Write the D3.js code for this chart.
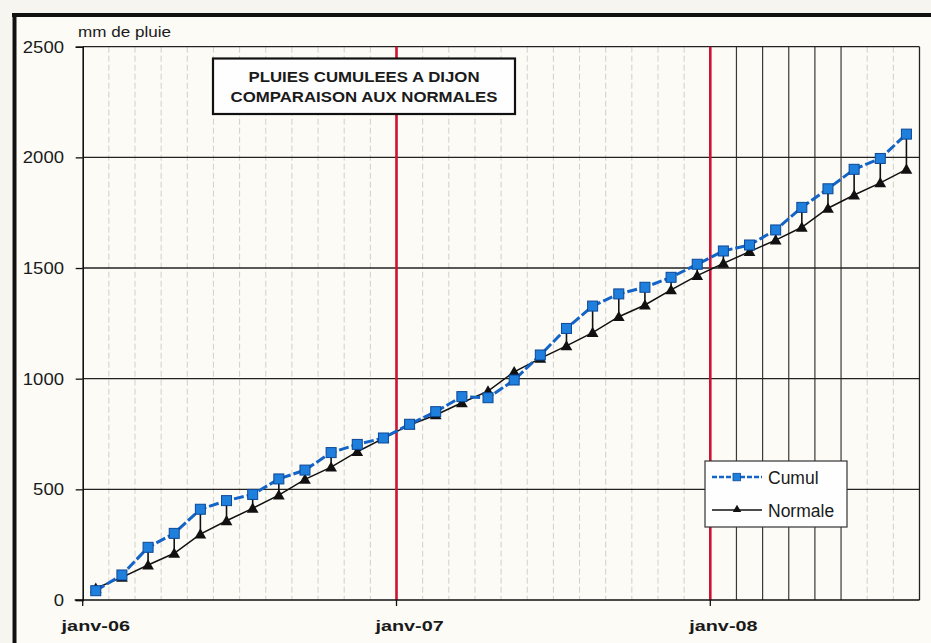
<!DOCTYPE html>
<html><head><meta charset="utf-8">
<script src="https://cdn.jsdelivr.net/npm/d3@7"></script>
<style>html,body{margin:0;padding:0;background:#f6f5f0;}svg{display:block;}</style>
</head><body>
<svg id="chart" width="931" height="643"></svg>
<script>
// ---- data ----
const months = ["janv-06","févr-06","mars-06","avr-06","mai-06","juin-06","juil-06","août-06","sept-06","oct-06","nov-06","déc-06",
                "janv-07","févr-07","mars-07","avr-07","mai-07","juin-07","juil-07","août-07","sept-07","oct-07","nov-07","déc-07",
                "janv-08","févr-08","mars-08","avr-08","mai-08","juin-08","juil-08","août-08"];
const cumul   = [42,113,238,301,410,449,477,547,587,666,703,732,794,851,919,914,994,1107,1227,1328,1383,1413,1458,1517,1577,1604,1672,1774,1858,1946,1995,2105];
const normale = [53,102,158,211,298,358,414,474,545,600,670,730,791,836,891,944,1031,1092,1148,1208,1280,1333,1401,1466,1521,1574,1626,1684,1770,1830,1885,1946];
const yTicks = [0,500,1000,1500,2000,2500];
const xTickLabels = ["janv-06","janv-07","janv-08"];
const seriesNames = ["Cumul","Normale"];
const titleLines = ["PLUIES CUMULEES A DIJON","COMPARAISON AUX NORMALES"];
const yAxisTitle = "mm de pluie";

// ---- layout ----
const svg = d3.select("#chart");
const L = 82.7, R = 919.5, T = 46.7, B = 600;
const x = d3.scaleBand().domain(months).range([L, R]).padding(0);
const y = d3.scaleLinear().domain([0, 2500]).range([B, T]);
const cx = m => x(m) + x.bandwidth() / 2;
const FONT = "Liberation Sans, Arial, sans-serif";

// backgrounds & frame
svg.append("rect").attr("x",12).attr("y",13).attr("width",919).attr("height",630).attr("fill","#fcfbf6");
svg.append("line").attr("x1",14.5).attr("x2",14.5).attr("y1",13).attr("y2",643).attr("stroke","#111").attr("stroke-width",4);
svg.append("line").attr("x1",12).attr("x2",931).attr("y1",15).attr("y2",15).attr("stroke","#111").attr("stroke-width",4);

// vertical gridlines at month boundaries
const g = svg.append("g");
months.forEach((m, i) => {
  if (i === 0 || m.startsWith("janv")) return;
  const xv = x(m);
  const dark = i >= 25 && i <= 29;
  g.append("line").attr("x1",xv).attr("x2",xv).attr("y1",T).attr("y2",B)
    .attr("stroke", dark ? "#3a3a3a" : "#cbcbcb")
    .attr("stroke-width", dark ? 1.2 : 0.9)
    .attr("stroke-dasharray", dark ? null : "6,3");
});

// horizontal gridlines
yTicks.filter(v => v > 0 && v < 2500).forEach(v => {
  g.append("line").attr("x1",L).attr("x2",R).attr("y1",y(v)).attr("y2",y(v)).attr("stroke","#222").attr("stroke-width",1.3);
});
// top & right border
g.append("line").attr("x1",L).attr("x2",R).attr("y1",T).attr("y2",T).attr("stroke","#222").attr("stroke-width",1.3);
g.append("line").attr("x1",R).attr("x2",R).attr("y1",T).attr("y2",B).attr("stroke","#222").attr("stroke-width",1.3);

// red year lines
months.forEach((m, i) => {
  if (i > 0 && m.startsWith("janv")) {
    g.append("line").attr("x1",x(m)).attr("x2",x(m)).attr("y1",T).attr("y2",B)
      .attr("stroke","#cf1231").attr("stroke-width",2.6);
  }
});

// axes
const yAxis = svg.append("g").attr("transform",`translate(${L},0)`)
  .call(d3.axisLeft(y).tickValues(yTicks).tickSize(7).tickFormat(""));
yAxis.select(".domain").attr("stroke","#111").attr("stroke-width",1.6);
yAxis.selectAll(".tick line").attr("stroke","#111").attr("stroke-width",1.3);
yTicks.forEach(v => {
  svg.append("text").attr("transform",`translate(64,${y(v)+6}) scale(1.09,1)`)
    .attr("text-anchor","end").attr("font-family",FONT)
    .attr("font-size",17).attr("fill","#1a1a1a").text(v);
});

const xAxis = svg.append("g").attr("transform",`translate(0,${B})`)
  .call(d3.axisBottom(x).tickValues(xTickLabels).tickSize(6).tickFormat(""));
xAxis.select(".domain").attr("stroke","#111").attr("stroke-width",1.6).attr("d",`M${L - 8},0H${R}`);
xAxis.selectAll(".tick").attr("transform", d => `translate(${x(d)},0)`);
xAxis.selectAll(".tick line").attr("stroke","#111").attr("stroke-width",1.3);
xTickLabels.forEach(lbl => {
  svg.append("text").attr("transform",`translate(${cx(lbl)},631) scale(1.28,1)`)
    .attr("text-anchor","middle").attr("font-family",FONT)
    .attr("font-weight","bold").attr("font-size",15.5).attr("fill","#1a1a1a").text(lbl);
});

svg.append("text").attr("transform",`translate(78,37) scale(1.22,1)`)
  .attr("font-family",FONT).attr("font-size",14).attr("fill","#1a1a1a").text(yAxisTitle);

// high-low lines
svg.append("g").selectAll("line").data(months).join("line")
  .attr("x1", cx).attr("x2", cx)
  .attr("y1", (m, i) => y(cumul[i])).attr("y2", (m, i) => y(normale[i]))
  .attr("stroke","#111").attr("stroke-width",1.6);

// lines
const line = d3.line().x((d, i) => cx(months[i])).y(d => y(d));
svg.append("path").attr("d", line(normale)).attr("fill","none").attr("stroke","#111").attr("stroke-width",1.5);
svg.append("path").attr("d", line(cumul)).attr("fill","none").attr("stroke","#1463c6").attr("stroke-width",3)
  .attr("stroke-dasharray","10,3");

// markers
const tri = d3.symbol().type(d3.symbolTriangle).size(60);
svg.append("g").selectAll("path").data(normale).join("path")
  .attr("d", tri).attr("transform", (d, i) => `translate(${cx(months[i])},${y(d)+1})`).attr("fill","#111");
svg.append("g").selectAll("rect").data(cumul).join("rect")
  .attr("x", (d, i) => cx(months[i]) - 5).attr("y", d => y(d) - 5)
  .attr("width",10).attr("height",10).attr("fill","#1e7fdc").attr("stroke","#0c4796").attr("stroke-width",1);

// title box
svg.append("rect").attr("x",213).attr("y",58.5).attr("width",302).attr("height",55.5)
  .attr("fill","#fefefe").attr("stroke","#111").attr("stroke-width",2.2);
titleLines.forEach((t, i) => {
  svg.append("text").attr("transform",`translate(364,${81.5 + i*20}) scale(1.2,1)`)
    .attr("text-anchor","middle").attr("font-family",FONT)
    .attr("font-weight","bold").attr("font-size",14).attr("fill","#1a1a1a").text(t);
});

// legend
const lg = svg.append("g");
lg.append("rect").attr("x",705).attr("y",461).attr("width",142).attr("height",66)
  .attr("fill","#fefefe").attr("stroke","#333").attr("stroke-width",1.2);
lg.append("line").attr("x1",712).attr("x2",762).attr("y1",477).attr("y2",477)
  .attr("stroke","#1463c6").attr("stroke-width",2.5).attr("stroke-dasharray","5,2");
lg.append("rect").attr("x",733).attr("y",473.3).attr("width",7.5).attr("height",7.5)
  .attr("fill","#1e7fdc").attr("stroke","#0c4796").attr("stroke-width",0.8);
lg.append("line").attr("x1",712).attr("x2",762).attr("y1",510).attr("y2",510)
  .attr("stroke","#111").attr("stroke-width",1.3);
lg.append("path").attr("d", d3.symbol().type(d3.symbolTriangle).size(30))
  .attr("transform","translate(737,509.5)").attr("fill","#111");
seriesNames.forEach((s, i) => {
  lg.append("text").attr("x",768).attr("y",483.5 + i*33.3)
    .attr("font-family",FONT).attr("font-size",17.5).attr("fill","#1a1a1a").text(s);
});
</script>
</body></html>
